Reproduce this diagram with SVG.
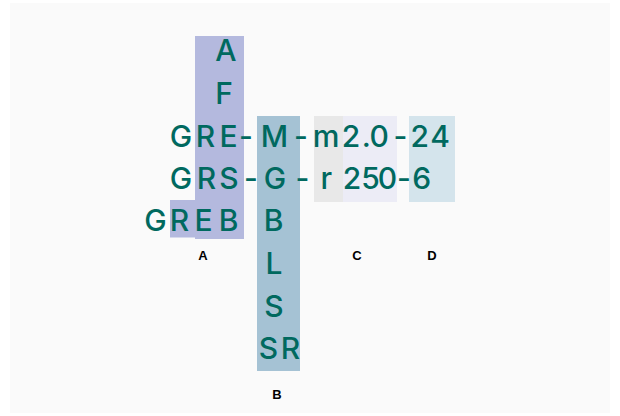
<svg xmlns="http://www.w3.org/2000/svg" width="620" height="416" viewBox="0 0 620 416">
<style>
.t{font-family:Inter,"Noto Sans",sans-serif;font-size:30px;font-weight:500;fill:#00695f;text-anchor:middle}
.lbl{font-family:"Liberation Sans",Arial,sans-serif;font-size:13px;font-weight:bold;fill:#000;text-anchor:middle}
</style>
<rect x="0" y="0" width="620" height="416" fill="#ffffff"/>
<rect x="10" y="3" width="600" height="410" fill="#fafafa"/>
<g id="nodeA">
<rect x="195" y="36" width="49" height="203" fill="#b4b9de"/>
<rect x="170" y="200" width="25" height="37.5" fill="#b4b9de"/>
<text class="t" x="226" y="61">A</text>
<text class="t" x="224" y="104">F</text>
<text class="t" x="181 205.5 228.5" y="147">GRE</text>
<text class="t" x="181 206.5 229" y="188.5">GRS</text>
<text class="t" x="155.5 179.5 203.5 228.5" y="230.5">GREB</text>
<text class="lbl" x="203" y="260">A</text>
</g>
<g id="nodeB">
<rect x="257" y="116" width="43" height="255" fill="#a5c2d4"/>
<text class="t" x="274.5" y="147">M</text>
<text class="t" x="275" y="188.5">G</text>
<text class="t" x="273.5" y="230.5">B</text>
<text class="t" x="274" y="274">L</text>
<text class="t" x="274" y="316.5">S</text>
<text class="t" x="268.5 290.5" y="359">SR</text>
<text class="lbl" x="277" y="399">B</text>
</g>
<g id="nodeC">
<rect x="314" y="116" width="29" height="86" fill="#e8e8e8"/>
<rect x="343" y="116" width="54" height="86" fill="#ececf6"/>
<text class="t" x="326 351 366.3 379.2" y="147">m2.0</text>
<text class="t" x="326.3 352 370.5 387.5" y="188.5">r250</text>
<text class="lbl" x="357" y="260">C</text>
</g>
<g id="nodeD">
<rect x="409" y="116" width="46" height="86" fill="#d4e4ec"/>
<text class="t" x="419.7 440" y="147">24</text>
<text class="t" x="421.7" y="188.5">6</text>
<text class="lbl" x="432" y="260">D</text>
</g>
<g id="connectors">
<text class="t" x="246" y="147">-</text>
<text class="t" x="301" y="147">-</text>
<text class="t" x="400.5" y="147">-</text>
<text class="t" x="251" y="188.5">-</text>
<text class="t" x="302.5" y="188.5">-</text>
<text class="t" x="404" y="188.5">-</text>
</g>
</svg>
